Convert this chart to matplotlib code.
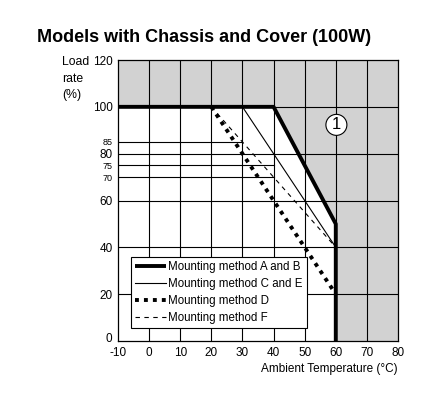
import numpy as np
import matplotlib.pyplot as plt
import matplotlib.transforms as mtransforms
from matplotlib.patches import Polygon

plt.rcParams['font.family'] = ['Liberation Sans', 'DejaVu Sans']
plt.rcParams['axes.unicode_minus'] = False

# Curvas de derating (temperatura ambiente, % de carga)
temp_ab = [-10, 40, 60, 60]
carga_ab = [100, 100, 50, 0]
temp_ce = [30, 60]
carga_ce = [100, 40]
temp_d = [20, 60]
carga_d = [100, 20]
temp_f = [20, 60]
carga_f = [100, 40]

# Lineas cortas de referencia (valor, hasta temperatura)
refs = [85, 75, 70]
refs_fin = [30, 40, 40]

xticks = [-10, 0, 10, 20, 30, 40, 50, 60, 70, 80]
yticks = [0, 20, 40, 60, 80, 100, 120]

fig = plt.figure(figsize=(4.38, 3.96), dpi=100)
ax = fig.add_axes([118/438, 1-341/396, 280/438, 281/396])
ax.set_xlim(-10, 80)
ax.set_ylim(0, 120)
ax.set_facecolor('#d2d2d2')

# zona blanca bajo la curva A/B
zona = Polygon(list(zip(temp_ab, carga_ab)) + [(-10, 0)], closed=True,
               facecolor='white', edgecolor='none', zorder=0.5)
ax.add_patch(zona)

for x in xticks[1:-1]:
    ax.axvline(x, color='black', lw=0.8, zorder=1)
for y in yticks[1:-1]:
    ax.axhline(y, color='black', lw=0.8, zorder=1)
for r, fin in zip(refs, refs_fin):
    ax.plot([-10, fin], [r, r], color='black', lw=0.8, zorder=1)

ax.plot(temp_ab, carga_ab, color='black', lw=2.8, solid_capstyle='butt',
        label='Mounting method A and B', zorder=4)
ax.plot(temp_ce, carga_ce, color='black', lw=0.8,
        label='Mounting method C and E', zorder=3)
ax.plot(temp_d, carga_d, color='black', lw=2.8, linestyle=(0, (1, 1.3)),
        dash_capstyle='butt', label='Mounting method D', zorder=3)
ax.plot(temp_f, carga_f, color='black', lw=0.8, linestyle=(0, (4, 4)),
        label='Mounting method F', zorder=3)

ax.text(60.2, 92.3, '1', fontsize=12, ha='center', va='center',
        bbox=dict(boxstyle='circle,pad=0.18', fc='white', ec='black', lw=0.8))

ax.set_xticks(xticks)
ax.set_yticks(yticks)
ax.set_yticks(refs, minor=True)
ax.set_yticklabels([str(v) for v in refs], minor=True, fontsize=6.5)
ax.tick_params(which='both', length=0, labelsize=8.5)
ax.tick_params(axis='x', pad=4.5)
ax.tick_params(axis='y', which='major', pad=4)
ax.tick_params(axis='y', which='minor', labelsize=6.5, pad=4)
for s in ax.spines.values():
    s.set_linewidth(0.9)

# el "0" del eje y va un poco por encima de la esquina
fig.canvas.draw()
subir = mtransforms.ScaledTranslation(0, 4/100, fig.dpi_scale_trans)
cero = ax.get_yticklabels()[0]
cero.set_transform(cero.get_transform() + subir)

ax.set_xlabel('Ambient Temperature (°C)', fontsize=8.5, loc='right', labelpad=3)

fig.text(62/438, 1-56/396, 'Load\nrate\n(%)', fontsize=8.8, ha='left', va='top',
         linespacing=1.5)
fig.text(37/438, 1-37/396, 'Models with Chassis and Cover (100W)', fontsize=13,
         fontweight='bold', ha='left', va='center')

leg = ax.legend(loc='lower left', bbox_to_anchor=(0.045, 0.045), borderaxespad=0,
                fontsize=8.3, handlelength=2.7, handletextpad=0.15, labelspacing=0.42,
                fancybox=False, framealpha=1, edgecolor='black', borderpad=0.4)
leg.get_frame().set_linewidth(0.8)
leg.set_zorder(5)

fig.savefig('out.png', dpi=100)
